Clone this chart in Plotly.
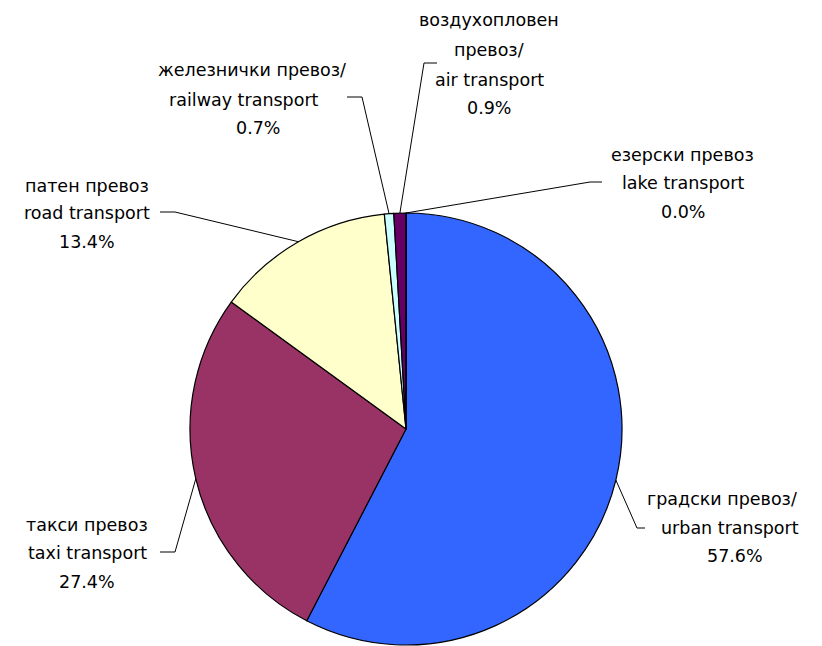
import math
import plotly.graph_objects as go

# ---- data ----
labels_mk = ["градски превоз/", "такси превоз", "патен превоз", "железнички превоз/", "воздухопловен<br>превоз/", "езерски превоз"]
labels_en = ["urban transport", "taxi transport", "road transport", "railway transport", "air transport", "lake transport"]
values = [57.6, 27.4, 13.4, 0.7, 0.9, 0.0]
colors = ["#3366FF", "#993366", "#FFFFCC", "#CCFFFF", "#660066", "#FFFFFF"]

W, H = 822, 646
CX, CY, R = 406, 429, 216
FONT = "DejaVu Sans"
FS = 17.5


def px(x):
    return x / W


def py(y):
    return 1 - y / H


fig = go.Figure(go.Pie(
    labels=labels_en,
    values=values,
    sort=False,
    direction="clockwise",
    rotation=0,
    marker=dict(colors=colors, line=dict(color="black", width=1.2)),
    textinfo="none",
    hoverinfo="label+percent",
    showlegend=False,
    domain=dict(x=[px(CX - R), px(CX + R)], y=[py(CY + R), py(CY - R)]),
))

# label layout: (center x per line, y per line) and leader elbow/end points (pixels)
label_layout = [
    dict(xs=[722, 730, 735], ys=[499, 528, 556], elbow=(637, 528), end=(645, 528)),
    dict(xs=[87, 87, 87], ys=[525, 553, 582], elbow=(175, 552), end=(160, 552)),
    dict(xs=[87, 87, 87], ys=[186, 213, 242], elbow=(175, 212), end=(160, 212)),
    dict(xs=[252, 244, 258], ys=[70, 100, 128], elbow=(362, 97), end=(347, 97)),
    dict(xs=[489, 489, 489, 489], ys=[20, 50, 80, 108], elbow=(424, 63), end=(437, 63)),
    dict(xs=[682, 683, 683], ys=[155, 183, 212], elbow=(590, 182), end=(602, 182)),
]

total = sum(values)
cum = 0.0
annotations = []
shapes = []
for i, v in enumerate(values):
    mid = (cum + v / 2) / total * 2 * math.pi
    cum += v
    sx = CX + R * math.sin(mid)
    sy = CY - R * math.cos(mid)
    lay = label_layout[i]
    lines = labels_mk[i].split("<br>") + [labels_en[i], f"{v:.1f}%"]
    for t, lx, ly in zip(lines, lay["xs"], lay["ys"]):
        annotations.append(dict(
            x=px(lx), y=py(ly), xref="paper", yref="paper", text=t,
            showarrow=False, xanchor="center", yanchor="middle",
            font=dict(family=FONT, size=FS, color="black"),
        ))
    ex, ey = lay["elbow"]
    nx, ny = lay["end"]
    shapes.append(dict(
        type="path", xref="paper", yref="paper",
        path=f"M {px(sx)} {py(sy)} L {px(ex)} {py(ey)} L {px(nx)} {py(ny)}",
        line=dict(color="black", width=1),
    ))

fig.update_layout(
    width=W, height=H,
    margin=dict(l=0, r=0, t=0, b=0),
    paper_bgcolor="white",
    plot_bgcolor="white",
    annotations=annotations,
    shapes=shapes,
)

fig.write_html(
    "out.html",
    config={"displayModeBar": False},
    post_script="document.body.style.margin='0';document.body.style.overflow='hidden';",
)
